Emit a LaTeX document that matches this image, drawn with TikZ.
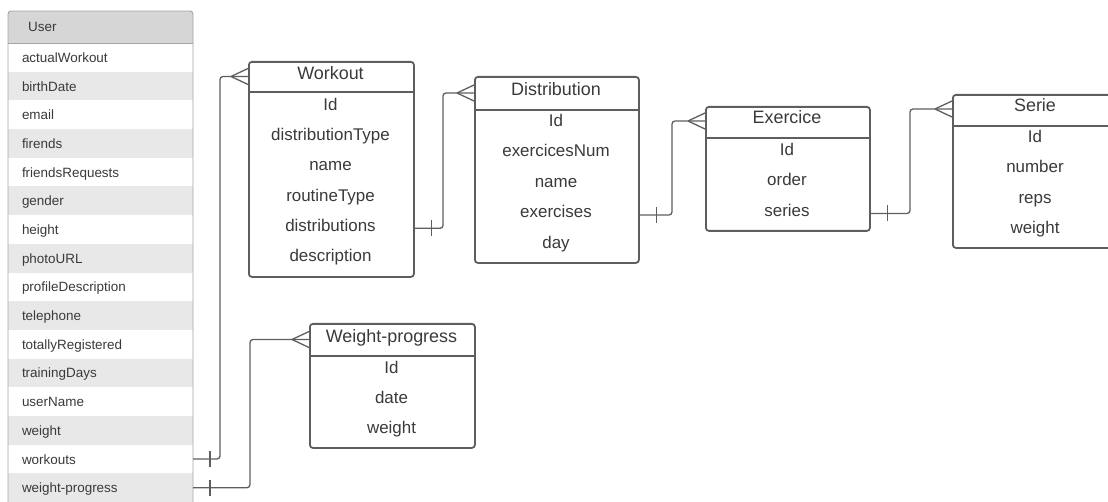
\documentclass[tikz,border=0pt]{standalone}
\usepackage{fontspec}
\setmainfont{Liberation Sans}
\usetikzlibrary{calc}
\definecolor{ink}{HTML}{3A3A3A}
\definecolor{edge}{HTML}{5E5E5E}
\definecolor{userline}{HTML}{A4A4A4}
\definecolor{userhead}{HTML}{D6D6D6}
\definecolor{userband}{HTML}{E8E8E8}
% crow's foot (many) at the entity edge point #1
\newcommand\crowsfoot[1]{%
  \draw[conn,rounded corners=0]
    ($#1+(-17,0)$) -- ($#1+(0,-8)$)
    ($#1+(-17,0)$) -- ($#1+(0,8)$);}
% single bar (one) near the start point #1
\newcommand\onebar[1]{%
  \draw[conn,rounded corners=0] ($#1+(17,-8)$) -- ($#1+(17,8)$);}
\begin{document}
\begin{tikzpicture}[x=1bp,y=-1bp,
  entity/.style={draw=edge,line width=1.8bp,rounded corners=3bp,fill=white,
    anchor=north west,inner sep=0pt},
  hline/.style={draw=edge,line width=1.8bp},
  title/.style={text=ink,font=\fontsize{18}{20}\selectfont,inner sep=0pt,
    text height=0.75em,text depth=0.15em},
  field/.style={text=ink,font=\fontsize{17}{20}\selectfont,inner sep=0pt,
    text height=0.75em,text depth=0.15em},
  urow/.style={anchor=north west,minimum width=185bp,minimum height=28.69bp,
    inner xsep=14bp,inner ysep=0pt,outer sep=0pt,text width=157bp,align=left,
    text=ink,font=\fontsize{13.5}{16}\selectfont,text height=10.5bp,text depth=0.5bp},
  conn/.style={draw=edge,line width=1.3bp,rounded corners=3bp},
  ]
\useasboundingbox (0,0) rectangle (1108,502);
\clip (0,0) rectangle (1108,502);

% ---------- User table ----------
\node[anchor=north west,minimum width=185bp,minimum height=40bp,inner sep=0pt,
  fill=userhead,rounded corners=3bp] (uh) at (8,11) {};
\node[anchor=west,text=ink,font=\fontsize{13.5}{16}\selectfont,inner sep=0pt]
  (uT) at (28,27) {User};
\foreach \t [count=\i] in {actualWorkout,birthDate,email,firends,friendsRequests,
  gender,height,photoURL,profileDescription,telephone,totallyRegistered,
  trainingDays,userName,weight,workouts,weight-progress}{
  \pgfmathsetmacro\yy{43+(\i-1)*28.69}
  \ifodd\i \def\rowfill{white}\else\def\rowfill{userband}\fi
  \node[urow,fill=\rowfill] (u\i) at (8,\yy) {\t};
}
\draw[userline,line width=0.9bp] (8,43) -- (193,43);
\draw[userline,line width=0.9bp,rounded corners=3bp]
  (8,515) -- (8,11) -- (193,11) -- (193,515);

% ---------- Workout ----------
\node[entity,minimum width=165bp,minimum height=215bp] (wo) at (248,61) {};
\draw[hline] (wo.west |- 0,92) -- (wo.east |- 0,92);
\coordinate (woH) at (330.5,76.5);
\node[title] (woT) at (woH) {Workout};
\foreach \t [count=\i] in {Id,distributionType,name,routineType,distributions,description}
  \node[field] (wo\i) at (330.5,{107.5+(\i-1)*30.2}) {\t};

% ---------- Distribution ----------
\node[entity,minimum width=164bp,minimum height=186bp] (di) at (474,76) {};
\draw[hline] (di.west |- 0,110) -- (di.east |- 0,110);
\coordinate (diH) at (556,93);
\node[title] (diT) at (diH) {Distribution};
\foreach \t [count=\i] in {Id,exercicesNum,name,exercises,day}
  \node[field] (di\i) at (556,{123.5+(\i-1)*30.5}) {\t};

% ---------- Exercice ----------
\node[entity,minimum width=164bp,minimum height=124bp] (ex) at (705,106) {};
\draw[hline] (ex.west |- 0,138) -- (ex.east |- 0,138);
\coordinate (exH) at (787,121);
\node[title] (exT) at (exH) {Exercice};
\foreach \t [count=\i] in {Id,order,series}
  \node[field] (ex\i) at (787,{152.5+(\i-1)*30.5}) {\t};

% ---------- Serie ----------
\node[entity,minimum width=166bp,minimum height=153bp] (se) at (952,94) {};
\draw[hline] (se.west |- 0,126) -- (se.east |- 0,126);
\coordinate (seH) at (1035,109);
\node[title] (seT) at (seH) {Serie};
\foreach \t [count=\i] in {Id,number,reps,weight}
  \node[field] (se\i) at (1035,{139.5+(\i-1)*30.3}) {\t};

% ---------- Weight-progress ----------
\node[entity,minimum width=165bp,minimum height=124bp] (wp) at (309,323) {};
\draw[hline] (wp.west |- 0,356) -- (wp.east |- 0,356);
\coordinate (wpH) at (391.5,339.5);
\node[title] (wpT) at (wpH) {Weight-progress};
\foreach \t [count=\i] in {Id,date,weight}
  \node[field] (wp\i) at (391.5,{370.5+(\i-1)*30}) {\t};

% ---------- relationships ----------
\coordinate (k1) at (220,0);
\coordinate (k2) at (250,0);
\coordinate (k3) at (443,0);
\coordinate (k4) at (672,0);
\coordinate (k5) at (910,0);

\draw[conn] (u15.east) -| (k1 |- woH) -- (wo.west |- woH);
\onebar{(u15.east)}
\crowsfoot{(wo.west |- woH)}

\draw[conn] (u16.east) -| (k2 |- wpH) -- (wp.west |- wpH);
\onebar{(u16.east)}
\crowsfoot{(wp.west |- wpH)}

\draw[conn] (wo.east |- wo5) -| (k3 |- diH) -- (di.west |- diH);
\onebar{(wo.east |- wo5)}
\crowsfoot{(di.west |- diH)}

\draw[conn] (di.east |- di4) -| (k4 |- exH) -- (ex.west |- exH);
\onebar{(di.east |- di4)}
\crowsfoot{(ex.west |- exH)}

\draw[conn] (ex.east |- ex3) -| (k5 |- seH) -- (se.west |- seH);
\onebar{(ex.east |- ex3)}
\crowsfoot{(se.west |- seH)}
\end{tikzpicture}
\end{document}
